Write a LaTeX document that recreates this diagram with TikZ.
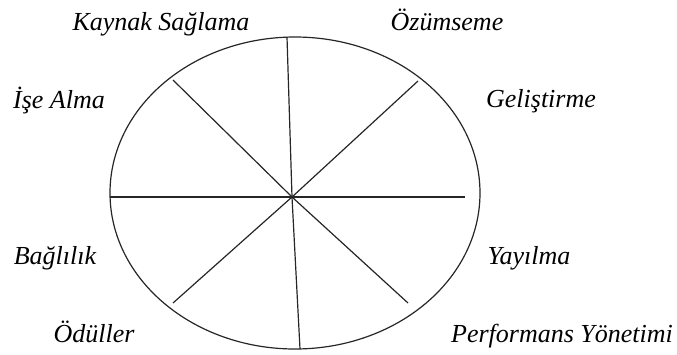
\documentclass[tikz,border=0pt]{standalone}
\usepackage{fontspec}
\setmainfont{Liberation Serif}
\usetikzlibrary{positioning}

\begin{document}
\begin{tikzpicture}[
  x=1pt, y=-1pt,
  wheel/.style={line width=1.2pt, black!85},
  lbl/.style={font=\fontsize{26}{30}\selectfont\itshape, inner sep=0pt, anchor=base},
]
  \useasboundingbox (0,0) rectangle (677,354);

  %% Wheel and spokes
  \coordinate (hub) at (292,197);
  \draw[wheel] (295,193) ellipse [x radius=185, y radius=156];
  \draw[wheel] (110,197) -- (465,197);
  \draw[wheel] (287,37) -- (hub) -- (300,349);
  \draw[wheel] (173,80) -- (hub) -- (408,303);
  \draw[wheel] (418,81) -- (hub) -- (173,303);

  %% Labels
  \node[lbl] (kaynak) at (161,30)  {Kaynak Sağlama};
  \node[lbl] (ozum)   at (447,30)  {Özümseme};
  \node[lbl] (ise)    at (59,108)  {İşe Alma};
  \node[lbl] (gelis)  at (541,107) {Geliştirme};
  \node[lbl] (bagli)  at (55,264)  {Bağlılık};
  \node[lbl] (yayil)  at (529,264) {Yayılma};
  \node[lbl] (odul)   at (94,342)  {Ödüller};
  \node[lbl] (perf)   at (562,342) {Performans Yönetimi};
\end{tikzpicture}
\end{document}
